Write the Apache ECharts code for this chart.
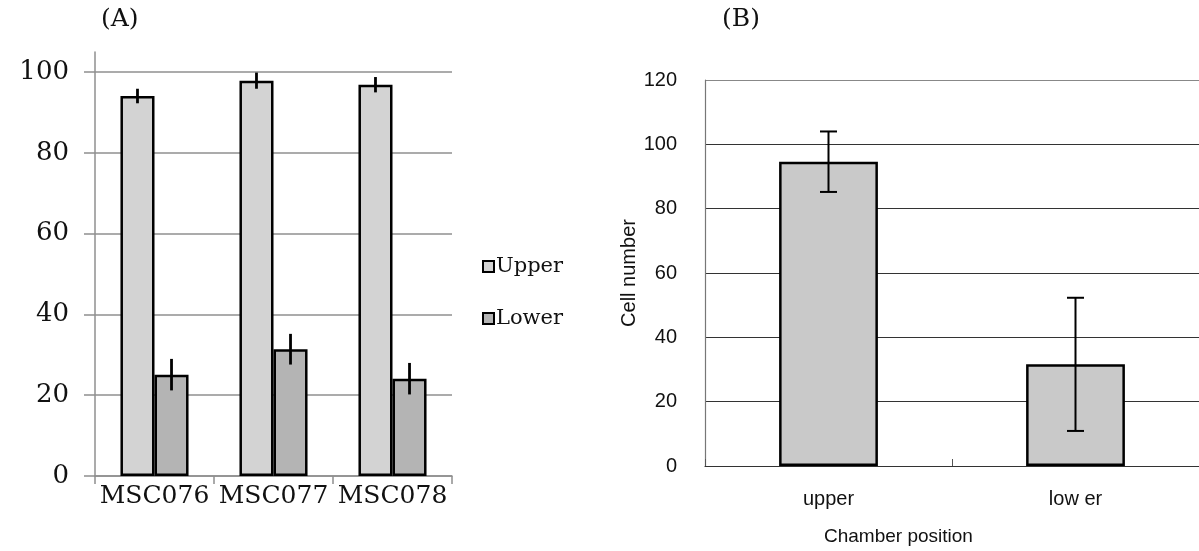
<!DOCTYPE html>
<html>
<head>
<meta charset="utf-8">
<script src="https://cdn.jsdelivr.net/npm/echarts@6/dist/echarts.min.js"></script>
<style>html,body{margin:0;padding:0;background:#fff;}#main{width:1199px;height:551px;}</style>
</head>
<body>
<div id="main"></div>
<script>
// ---- Panel A data ----
const catsA = ['MSC076', 'MSC077', 'MSC078'];
const upperA = [94.1, 97.9, 96.9];
const upperErrA = [1.8, 2.0, 1.9];
const lowerA = [25.1, 31.4, 24.1];
const lowerErrA = [3.9, 3.8, 3.9];
const ticksA = [0, 20, 40, 60, 80, 100];
// ---- Panel B data ----
const catsB = ['upper', 'low er'];
const valsB = [94.6, 31.6];
const errB = [9.4, 20.7];
const ticksB = [0, 20, 40, 60, 80, 100, 120];

const SERIF = 'DejaVu Serif';
const SANS = 'Liberation Sans';
const BAR_FRAC = 0.286;

function errBarA(sign) {
  return function (params, api) {
    const i = api.value(0), v = api.value(1), e = api.value(2);
    const band = api.size([1, 0])[0];
    const off = sign * band * BAR_FRAC / 2;
    const p1 = api.coord([i, v + e]);
    const p2 = api.coord([i, v - e]);
    return {type: 'line', shape: {x1: p1[0] + off, y1: p1[1], x2: p2[0] + off, y2: p2[1]},
            style: {stroke: '#000', lineWidth: 2.8}};
  };
}
function errBarB(params, api) {
  const i = api.value(0), v = api.value(1), e = api.value(2);
  const p1 = api.coord([i, v + e]);
  const p2 = api.coord([i, v - e]);
  const cw = 8.5;
  return {type: 'group', children: [
    {type: 'line', shape: {x1: p1[0], y1: p1[1], x2: p2[0], y2: p2[1]}, style: {stroke: '#000', lineWidth: 2}},
    {type: 'line', shape: {x1: p1[0] - cw, y1: p1[1], x2: p1[0] + cw, y2: p1[1]}, style: {stroke: '#000', lineWidth: 2}},
    {type: 'line', shape: {x1: p2[0] - cw, y1: p2[1], x2: p2[0] + cw, y2: p2[1]}, style: {stroke: '#000', lineWidth: 2}}
  ]};
}

const gridGrayA = '#8f8f8f';

const option = {
  backgroundColor: '#fff',
  animation: false,
  title: [
    {text: '(A)', left: 96, top: 2, textStyle: {fontFamily: SERIF, fontSize: 25, fontWeight: 'normal', color: '#111'}},
    {text: '(B)', left: 717, top: 2, textStyle: {fontFamily: SERIF, fontSize: 25, fontWeight: 'normal', color: '#111'}}
  ],
  legend: {
    orient: 'vertical', left: 477, top: 251, itemWidth: 11, itemHeight: 11, itemGap: 31,
    icon: 'rect',
    data: ['Upper', 'Lower'],
    textStyle: {fontFamily: SERIF, fontSize: 21, color: '#111', padding: [0, 0, 0, -3]}
  },
  grid: [
    {left: 95, right: 747, top: 52, bottom: 75},
    {left: 705, right: -9, top: 80, bottom: 85}
  ],
  xAxis: [
    {gridIndex: 0, type: 'category', data: catsA,
     axisLine: {lineStyle: {color: gridGrayA, width: 1.5}},
     axisTick: {show: true, length: 8, lineStyle: {color: gridGrayA, width: 1.5}},
     axisLabel: {interval: 0, hideOverlap: false, fontFamily: SERIF, fontSize: 25, color: '#111', margin: 8}},
    {gridIndex: 1, type: 'category', data: catsB,
     axisLine: {lineStyle: {color: '#333', width: 1.2}},
     axisTick: {show: true, inside: true, length: 7, lineStyle: {color: '#555'}},
     axisLabel: {interval: 0, fontFamily: SANS, fontSize: 20, color: '#111', margin: 23}}
  ],
  yAxis: [
    {gridIndex: 0, type: 'value', min: 0, max: 105, interval: 20,
     axisLine: {show: true, lineStyle: {color: gridGrayA, width: 1.5}},
     axisTick: {show: true, length: 11, customValues: ticksA, lineStyle: {color: gridGrayA, width: 1.5}},
     axisLabel: {customValues: ticksA, fontFamily: SERIF, fontSize: 26, color: '#111', margin: 26},
     splitLine: {show: true, lineStyle: {color: [gridGrayA, gridGrayA, gridGrayA, gridGrayA, gridGrayA, gridGrayA, 'rgba(0,0,0,0)'], width: 1.5}}},
    {gridIndex: 1, type: 'value', min: 0, max: 120, interval: 20,
     name: 'Cell number', nameLocation: 'middle', nameRotate: 90, nameGap: 62,
     nameTextStyle: {fontFamily: SANS, fontSize: 20, color: '#111'},
     axisLine: {show: true, lineStyle: {color: '#777', width: 1.2}},
     axisTick: {show: false},
     axisLabel: {fontFamily: SANS, fontSize: 20, color: '#111', margin: 28},
     splitLine: {show: true, lineStyle: {color: ['#333', '#333', '#333', '#333', '#333', '#333', '#888'], width: 1.2}}}
  ],
  graphic: [
    {type: 'text', left: 824, top: 527, style: {text: 'Chamber position', fontFamily: SANS, fontSize: 19, fill: '#111'}}
  ],
  series: [
    {name: 'Upper', type: 'bar', xAxisIndex: 0, yAxisIndex: 0, data: upperA,
     barWidth: (BAR_FRAC * 100) + '%', barGap: '0%',
     itemStyle: {color: '#d3d3d3', borderColor: '#000', borderWidth: 2.5}},
    {name: 'Lower', type: 'bar', xAxisIndex: 0, yAxisIndex: 0, data: lowerA,
     barWidth: (BAR_FRAC * 100) + '%', barGap: '0%',
     itemStyle: {color: '#b4b4b4', borderColor: '#000', borderWidth: 2.5}},
    {type: 'custom', xAxisIndex: 0, yAxisIndex: 0, renderItem: errBarA(-1), z: 5,
     encode: {x: 0, y: 1}, data: upperA.map((v, i) => [i, v, upperErrA[i]])},
    {type: 'custom', xAxisIndex: 0, yAxisIndex: 0, renderItem: errBarA(1), z: 5,
     encode: {x: 0, y: 1}, data: lowerA.map((v, i) => [i, v, lowerErrA[i]])},
    {name: 'Cells', type: 'bar', xAxisIndex: 1, yAxisIndex: 1, data: valsB, barWidth: '40%',
     itemStyle: {color: '#c9c9c9', borderColor: '#000', borderWidth: 2.5}},
    {type: 'custom', xAxisIndex: 1, yAxisIndex: 1, renderItem: errBarB, z: 5,
     encode: {x: 0, y: 1}, data: valsB.map((v, i) => [i, v, errB[i]])}
  ]
};

const chart = echarts.init(document.getElementById('main'), null, {renderer: 'canvas'});
chart.setOption(option);
</script>
</body>
</html>
